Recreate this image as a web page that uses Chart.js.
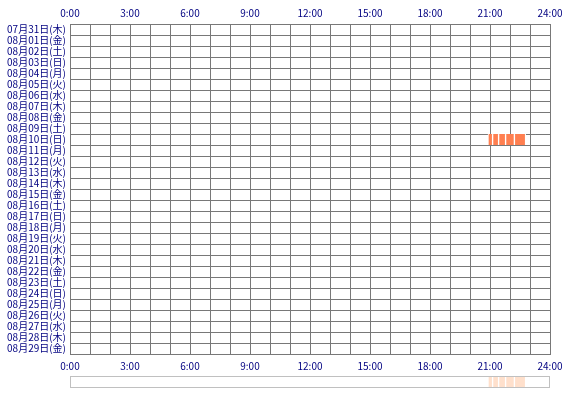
<!DOCTYPE html>
<html>
<head>
<meta charset="utf-8">
<script src="https://cdn.jsdelivr.net/npm/chart.js@4/dist/chart.umd.min.js"></script>
<style>
	html, body { margin: 0; padding: 0; background: #fff; }
	#wrap { position: relative; width: 570px; height: 400px; }
	#chart { position: absolute; left: 0; top: 0; }
	#overview { position: absolute; left: 0; top: 370px; }
</style>
</head>
<body>
<div id="wrap">
	<canvas id="chart" width="570" height="372"></canvas>
	<canvas id="overview" width="570" height="24"></canvas>
</div>
<script>
const days = [
	'07月31日(木)', '08月01日(金)', '08月02日(土)', '08月03日(日)', '08月04日(月)',
	'08月05日(火)', '08月06日(水)', '08月07日(木)', '08月08日(金)', '08月09日(土)',
	'08月10日(日)', '08月11日(月)', '08月12日(火)', '08月13日(水)', '08月14日(木)',
	'08月15日(金)', '08月16日(土)', '08月17日(日)', '08月18日(月)', '08月19日(火)',
	'08月20日(水)', '08月21日(木)', '08月22日(金)', '08月23日(土)', '08月24日(日)',
	'08月25日(月)', '08月26日(火)', '08月27日(水)', '08月28日(木)', '08月29日(金)'
];
const hourLabels = ['0:00', '3:00', '6:00', '9:00', '12:00', '15:00', '18:00', '21:00', '24:00'];

// active periods (hours of day) on one day
const activeDay = '08月10日(日)';
const segStart = [20.9, 21.13, 21.43, 21.78, 22.22];
const segEnd = [21.13, 21.43, 21.78, 22.22, 22.78];

const NAVY = '#000080';
const GRID = '#787878';
const FONT = { family: '"Noto Sans CJK JP", "DejaVu Sans", sans-serif', size: 10 };

function hourTick(v) {
	if (v % 3 !== 0) return '';
	return hourLabels[v / 3];
}

function segments(dayLabel) {
	return segStart.map((s, i) => ({ x: [s, segEnd[i]], y: dayLabel }));
}

const frame = {
	id: 'frame',
	afterDraw(chart) {
		const a = chart.chartArea, ctx = chart.ctx;
		ctx.save();
		ctx.strokeStyle = '#c0c0c0';
		ctx.lineWidth = 1;
		ctx.strokeRect(a.left + 0.5, a.top + 0.5, a.right - a.left - 1, a.bottom - a.top - 1);
		ctx.restore();
	},
};

new Chart(document.getElementById('chart'), {
	type: 'bar',
	data: {
		labels: days,
		datasets: [{
			data: segments(activeDay),
			backgroundColor: '#ff7f50',
			borderColor: '#ffffff',
			borderWidth: { left: 1, right: 1, top: 0, bottom: 0 },
			borderSkipped: false,
			categoryPercentage: 1,
			barPercentage: 1,
		}],
	},
	options: {
		indexAxis: 'y',
		responsive: false,
		animation: false,
		layout: { padding: { left: 0, right: 20, top: 0, bottom: 0 } },
		plugins: { legend: { display: false }, tooltip: { enabled: false } },
		scales: {
			x: {
				type: 'linear',
				position: 'bottom',
				min: 0,
				max: 24,
				afterFit(s) { s.height = 18; },
				ticks: { stepSize: 1, autoSkip: false, maxRotation: 0, color: NAVY, font: FONT, padding: 6, callback: hourTick },
				grid: { color: GRID, drawTicks: false },
				border: { color: GRID },
			},
			x2: {
				type: 'linear',
				position: 'top',
				min: 0,
				max: 24,
				afterFit(s) { s.height = 24; },
				ticks: { stepSize: 1, autoSkip: false, maxRotation: 0, color: NAVY, font: FONT, padding: 5, callback: hourTick },
				grid: { display: false, drawTicks: false },
				border: { color: GRID },
			},
			y: {
				type: 'category',
				afterFit(s) { s.width = 70; },
				ticks: { color: NAVY, font: FONT, padding: 4, autoSkip: false },
				grid: { color: GRID, offset: true, drawTicks: false },
				border: { color: GRID },
			},
		},
	},
});

new Chart(document.getElementById('overview'), {
	type: 'bar',
	data: {
		labels: ['all'],
		datasets: [{
			data: segments('all'),
			backgroundColor: '#ffe0cc',
			borderColor: '#ffffff',
			borderWidth: { left: 1, right: 1, top: 0, bottom: 0 },
			borderSkipped: false,
			categoryPercentage: 1,
			barPercentage: 1,
		}],
	},
	options: {
		indexAxis: 'y',
		responsive: false,
		animation: false,
		layout: { padding: { left: 70, right: 20, top: 6, bottom: 6 } },
		plugins: { legend: { display: false }, tooltip: { enabled: false } },
		scales: {
			x: { type: 'linear', min: 0, max: 24, display: false },
			y: { type: 'category', display: false },
		},
	},
	plugins: [frame],
});
</script>
</body>
</html>
